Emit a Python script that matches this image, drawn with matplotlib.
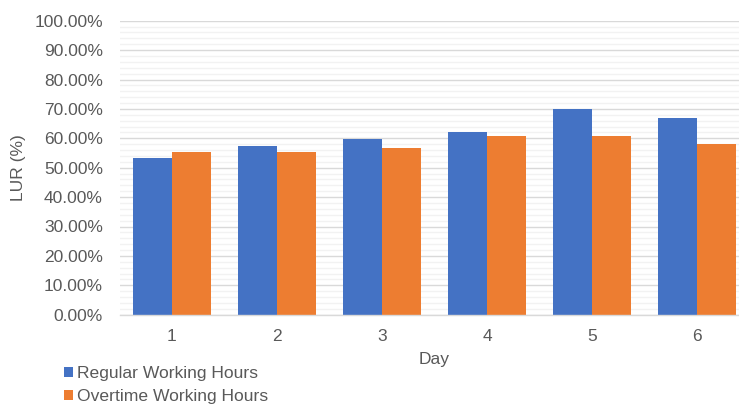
import matplotlib
matplotlib.use("Agg")
import matplotlib.pyplot as plt
from matplotlib.patches import Patch
from matplotlib.ticker import MultipleLocator, PercentFormatter
import numpy as np

plt.rcParams['font.family'] = ['Liberation Sans', 'DejaVu Sans']

days = ["1", "2", "3", "4", "5", "6"]
regular = [53.3, 57.4, 59.7, 62.0, 69.9, 67.0]
overtime = [55.2, 55.2, 56.7, 60.8, 60.8, 58.1]
series_names = ["Regular Working Hours", "Overtime Working Hours"]

BLUE = "#4472C4"
ORANGE = "#ED7D31"
TEXT = "#595959"

W, H = 739, 404
fig = plt.figure(figsize=(W / 100, H / 100), dpi=100)
ax = fig.add_axes([119.5 / W, (H - 314.7) / H, 630 / W, 294 / H])

x = np.arange(len(days))
bw = 0.367
ax.bar(x - bw / 2, regular, width=bw, color=BLUE, zorder=3)
ax.bar(x + bw / 2, overtime, width=bw, color=ORANGE, zorder=3)

ax.set_xlim(-0.5, len(days) - 0.5)
ax.set_ylim(0, 100)
ax.yaxis.set_major_locator(MultipleLocator(10))
ax.yaxis.set_minor_locator(MultipleLocator(2))
ax.yaxis.set_major_formatter(PercentFormatter(decimals=2))
ax.grid(axis='y', which='major', color='#D9D9D9', linewidth=1.0, zorder=0)
ax.grid(axis='y', which='minor', color='#F2F2F2', linewidth=1.0, zorder=0)

ax.set_xticks(x)
ax.set_xticklabels(days)
ax.tick_params(axis='both', which='both', length=0, labelsize=12.5, colors=TEXT)
ax.tick_params(axis='x', pad=10)
ax.tick_params(axis='y', pad=12)

for side in ('top', 'right', 'left'):
    ax.spines[side].set_visible(False)
ax.spines['bottom'].set_color('#D9D9D9')
ax.spines['bottom'].set_linewidth(1.0)
ax.spines['bottom'].set_zorder(4)

ax.set_xlabel("Day", fontsize=12.5, color=TEXT, labelpad=6)
ax.set_ylabel("LUR (%)", fontsize=12.5, color=TEXT, labelpad=6)

handles = [Patch(facecolor=BLUE), Patch(facecolor=ORANGE)]
fig.legend(handles, series_names, loc='upper left', bbox_to_anchor=(52 / W, 1 - 354 / H),
           frameon=False, fontsize=12.6, labelcolor=TEXT, handlelength=0.5, handleheight=0.5,
           handletextpad=0.25, labelspacing=0.45, borderpad=0.2)

fig.savefig("out.png", dpi=100, facecolor='white')
